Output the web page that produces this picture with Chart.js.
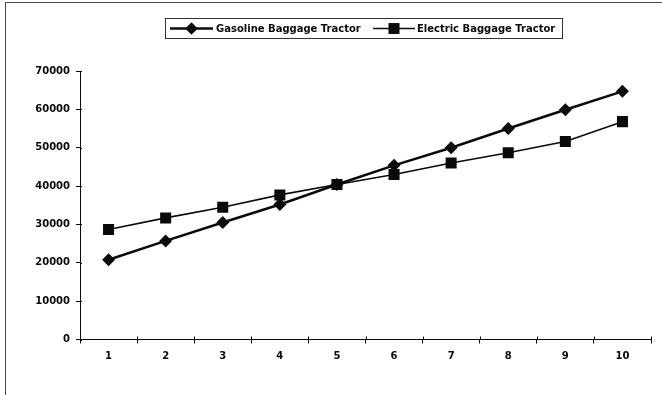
<!DOCTYPE html>
<html>
<head>
<meta charset="utf-8">
<script src="https://cdn.jsdelivr.net/npm/chart.js@4/dist/chart.umd.min.js"></script>
<style>
  html, body { margin: 0; padding: 0; background: #fff; }
  #wrap { width: 662px; height: 395px; position: relative; }
</style>
</head>
<body>
<div id="wrap"><canvas id="c" width="662" height="395"></canvas></div>
<script>
// Annual cost by year for the two tractor types
const years = ['1', '2', '3', '4', '5', '6', '7', '8', '9', '10'];
const gasolineCost = [20800, 25700, 30500, 35200, 40400, 45400, 50000, 55000, 59900, 64700];
const electricCost = [28700, 31700, 34500, 37700, 40400, 43000, 46000, 48700, 51600, 56800];
const seriesNames = ['Gasoline Baggage Tractor', 'Electric Baggage Tractor'];

const FONT = "'DejaVu Sans', sans-serif";
const INK = '#0a0a0a';

// Page frame (left and top rules) and the boxed legend above the plot
const framePlugin = {
  id: 'frame',
  beforeDraw(chart) {
    const ctx = chart.ctx;
    ctx.save();
    ctx.fillStyle = '#fff';
    ctx.fillRect(0, 0, chart.width, chart.height);
    ctx.strokeStyle = '#444';
    ctx.lineWidth = 1;
    ctx.beginPath();
    ctx.moveTo(5.5, chart.height);
    ctx.lineTo(5.5, 2.5);
    ctx.lineTo(chart.width, 2.5);
    ctx.stroke();
    ctx.restore();
  }
};

const legendPlugin = {
  id: 'boxLegend',
  afterDraw(chart) {
    const ctx = chart.ctx;
    ctx.save();
    ctx.strokeStyle = '#333';
    ctx.lineWidth = 1;
    ctx.strokeRect(165.5, 18.5, 397, 20);
    const entries = [
      { x0: 170, x1: 213, text: 216 },
      { x0: 373, x1: 415, text: 417 }
    ];
    const cy = 28.5;
    chart.data.datasets.forEach((ds, i) => {
      const e = entries[i];
      ctx.strokeStyle = ds.borderColor;
      ctx.lineWidth = ds.borderWidth;
      ctx.beginPath();
      ctx.moveTo(e.x0, cy);
      ctx.lineTo(e.x1, cy);
      ctx.stroke();
      const mx = (e.x0 + e.x1) / 2;
      Chart.helpers.drawPoint(ctx, {
        pointStyle: ds.pointStyle,
        radius: ds.legendRadius,
        borderWidth: 0,
        rotation: 0
      }, mx, cy);
      ctx.fillStyle = ds.pointBackgroundColor;
      ctx.fill();
      ctx.fillStyle = INK;
      ctx.font = 'bold 10px ' + FONT;
      ctx.textBaseline = 'middle';
      ctx.textAlign = 'left';
      ctx.fillText(ds.label, e.text, cy + 0.5);
    });
    ctx.restore();
  }
};

// Short tick marks crossing each axis on the plot side
const crossTicks = {
  id: 'crossTicks',
  afterDatasetsDraw(chart) {
    const ctx = chart.ctx;
    const xs = chart.scales.x, ys = chart.scales.y;
    ctx.save();
    ctx.strokeStyle = INK;
    ctx.lineWidth = 1;
    ctx.beginPath();
    ys.ticks.forEach((t, i) => {
      const y = Math.round(ys.getPixelForTick(i)) + 0.5;
      ctx.moveTo(xs.left, y);
      ctx.lineTo(xs.left + 2, y);
    });
    for (let i = 0; i <= years.length; i++) {
      const x = Math.round(xs.left + (xs.right - xs.left) * i / years.length) + 0.5;
      ctx.moveTo(x, ys.bottom);
      ctx.lineTo(x, ys.bottom - 3);
    }
    ctx.stroke();
    ctx.restore();
  }
};

new Chart(document.getElementById('c'), {
  type: 'line',
  data: {
    labels: years,
    datasets: [
      {
        label: seriesNames[0],
        data: gasolineCost,
        borderColor: INK,
        borderWidth: 2.5,
        pointStyle: 'rectRot',
        pointRadius: 6.5,
        legendRadius: 6,
        pointBackgroundColor: INK,
        pointBorderColor: INK,
        pointBorderWidth: 0,
        tension: 0
      },
      {
        label: seriesNames[1],
        data: electricCost,
        borderColor: INK,
        borderWidth: 1.6,
        pointStyle: 'rect',
        pointRadius: 7.8,
        legendRadius: 7.5,
        pointBackgroundColor: INK,
        pointBorderColor: INK,
        pointBorderWidth: 0,
        tension: 0
      }
    ]
  },
  options: {
    responsive: false,
    animation: false,
    devicePixelRatio: 1,
    layout: { padding: { left: 0, top: 71, right: 11, bottom: 0 } },
    plugins: {
      legend: { display: false },
      tooltip: { enabled: false },
      title: { display: false }
    },
    scales: {
      x: {
        type: 'category',
        offset: true,
        grid: {
          display: true,
          offset: true,
          drawOnChartArea: false,
          drawTicks: true,
          tickLength: 4,
          color: INK,
          lineWidth: 1
        },
        border: { display: true, color: INK, width: 1 },
        ticks: {
          color: INK,
          font: { family: FONT, weight: 'bold', size: 10 },
          padding: 7,
          maxRotation: 0
        },
        afterFit(s) { s.height = 55.5; }
      },
      y: {
        min: 0,
        max: 70000,
        grid: {
          display: true,
          drawOnChartArea: false,
          drawTicks: true,
          tickLength: 4,
          color: INK,
          lineWidth: 1
        },
        border: { display: true, color: INK, width: 1 },
        ticks: {
          stepSize: 10000,
          color: INK,
          font: { family: FONT, weight: 'bold', size: 10 },
          padding: 6,
          callback: (v) => String(v)
        },
        afterFit(s) { s.width = 80; }
      }
    }
  },
  plugins: [framePlugin, crossTicks, legendPlugin]
});
</script>
</body>
</html>
